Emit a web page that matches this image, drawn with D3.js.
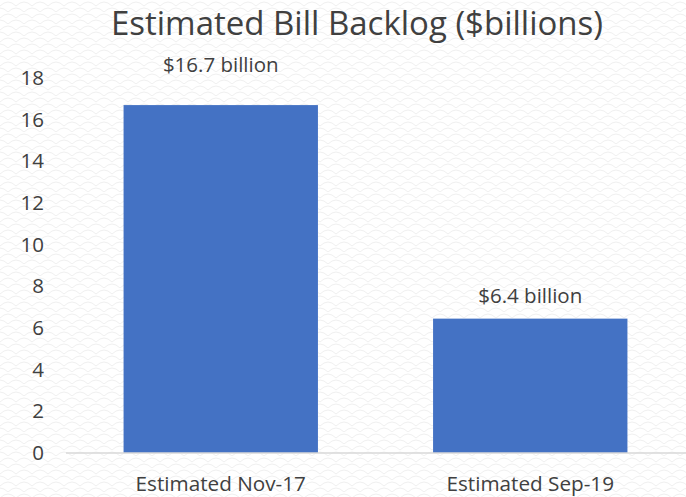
<!DOCTYPE html>
<html><head><meta charset="utf-8">
<script src="https://cdn.jsdelivr.net/npm/d3@7"></script>
<style>body{margin:0;background:#fff}svg{display:block}text{font-family:"Open Sans",sans-serif;fill:#404040}</style>
</head><body>
<script>
const categories = ["Estimated Nov-17", "Estimated Sep-19"];
const values = [16.7, 6.45];
const valueLabels = ["$16.7 billion", "$6.4 billion"];
const yTicks = [0, 2, 4, 6, 8, 10, 12, 14, 16, 18];
const title = "Estimated Bill Backlog ($billions)";

const W = 686, H = 497;
const svg = d3.select("body").append("svg").attr("width", W).attr("height", H);
const defs = svg.append("defs");
const pat = defs.append("pattern").attr("id", "scales").attr("patternUnits", "userSpaceOnUse")
  .attr("width", 16).attr("height", 12);
pat.append("path").attr("d", "M0,6 Q8,-2 16,6 M-8,12 Q0,4 8,12 M8,12 Q16,4 24,12")
  .attr("fill", "none").attr("stroke", "#efefef").attr("stroke-width", 1);
svg.append("rect").attr("width", W).attr("height", H).attr("fill", "url(#scales)");

const x = d3.scaleBand().domain(categories).range([66, 685]).paddingInner(0.372).paddingOuter(0.186);
const y = d3.scaleLinear().domain([0, 18]).range([453, 78]);

svg.append("text").attr("x", 357).attr("y", 35).attr("text-anchor", "middle")
  .style("font-size", "33px").text(title);

const yAxis = svg.append("g").attr("transform", "translate(44,0)")
  .call(d3.axisLeft(y).tickValues(yTicks).tickSize(0).tickPadding(0));
yAxis.select(".domain").remove();
yAxis.selectAll("text").style("font-size", "20.5px").attr("fill", "#404040").style("font-family", '"Open Sans",sans-serif');

svg.selectAll("rect.bar").data(values).enter().append("rect").attr("class", "bar")
  .attr("x", (d, i) => x(categories[i])).attr("width", x.bandwidth())
  .attr("y", d => y(d)).attr("height", d => y(0) - y(d)).attr("fill", "#4472C4");

const xAxis = svg.append("g").attr("transform", `translate(0,${y(0)})`)
  .call(d3.axisBottom(x).tickSize(0).tickPadding(23));
xAxis.select(".domain").attr("stroke", "#d9d9d9").attr("stroke-width", 1.5).attr("d", "M66,0H686");
xAxis.selectAll("text").style("font-size", "20.7px").attr("fill", "#404040").style("font-family", '"Open Sans",sans-serif');

const yMax = y.domain()[1];
svg.selectAll("text.lbl").data(values).enter().append("text").attr("class", "lbl")
  .attr("x", (d, i) => x(categories[i]) + x.bandwidth() / 2)
  .attr("y", d => d > yMax - 3 ? y(yMax) - 6 : y(d) - 16).attr("text-anchor", "middle")
  .style("font-size", "20.5px").text((d, i) => valueLabels[i]);
</script>
</body></html>
